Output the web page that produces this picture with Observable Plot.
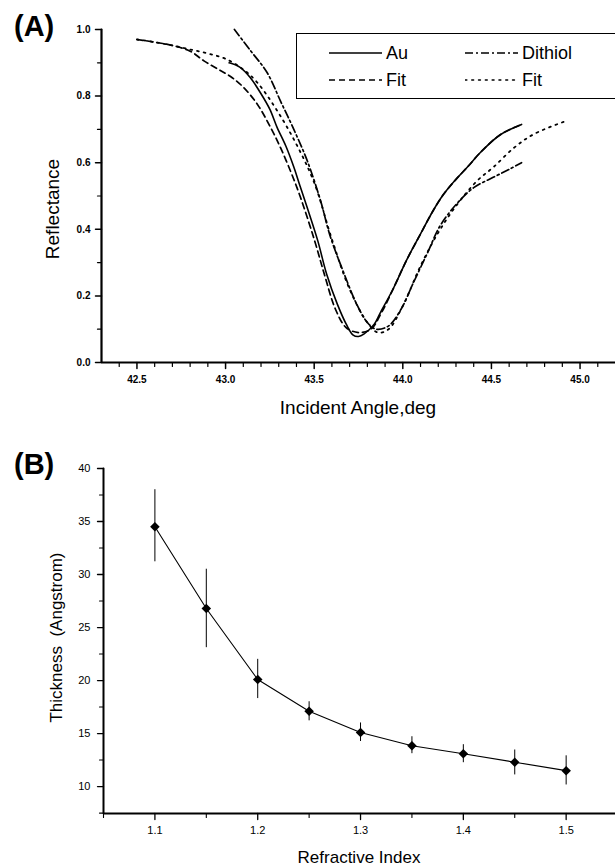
<!DOCTYPE html>
<html>
<head>
<meta charset="utf-8">
<script src="https://cdn.jsdelivr.net/npm/d3@7"></script>
<script src="https://cdn.jsdelivr.net/npm/@observablehq/plot@0.6"></script>
<style>
  body { margin: 0; background: white; color: black; }
  #wrap { position: relative; width: 615px; height: 867px; overflow: hidden; background: white; color: black; font-family: "Liberation Sans", Arial, sans-serif; }
  #a, #b { position: absolute; left: 0; }
  #a { top: 0; }
  #b { top: 420px; }
  .panel { position: absolute; font-size: 29px; line-height: 29px; font-weight: bold; white-space: nowrap; }
  .xtitle { position: absolute; width: 400px; text-align: center; white-space: nowrap; }
  #legend { position: absolute; left: 296px; top: 33px; width: 330px; height: 66px; box-sizing: border-box; border: 1.3px solid black; }
  .ltext { position: absolute; font-size: 18px; line-height: 18px; white-space: nowrap; }
  .lsample { position: absolute; width: 53px; height: 10px; }
</style>
</head>
<body>
<div id="wrap">
  <div id="a"></div>
  <div id="b"></div>
</div>
<script>
// ---------- Panel A data ----------
const auX = [43.02,43.08,43.14,43.20,43.25,43.29,43.34,43.385,43.42,43.46,43.52,43.57,43.63,43.68,43.72,43.75,43.78,43.84,43.87,43.95,44.02,44.10,44.17,44.23,44.30,44.37,44.44,44.55,44.67];
const auR = [0.90,0.887,0.855,0.807,0.76,0.707,0.65,0.587,0.53,0.466,0.366,0.266,0.176,0.116,0.082,0.078,0.085,0.116,0.146,0.226,0.306,0.386,0.455,0.505,0.55,0.59,0.632,0.684,0.715];

const fitAuX = [42.50,42.60,42.70,42.80,42.88,42.96,43.03,43.10,43.18,43.25,43.31,43.37,43.42,43.50,43.56,43.62,43.68,43.75,43.82,43.88,43.95,44.02,44.10,44.17,44.23,44.30,44.37,44.44,44.55,44.67];
const fitAuR = [0.97,0.962,0.952,0.935,0.905,0.88,0.858,0.827,0.775,0.71,0.645,0.57,0.50,0.37,0.26,0.16,0.105,0.09,0.10,0.15,0.226,0.306,0.386,0.455,0.505,0.55,0.59,0.632,0.684,0.715];

const dtX = [43.05,43.14,43.235,43.31,43.385,43.46,43.536,43.59,43.67,43.74,43.80,43.85,43.92,43.99,44.06,44.14,44.21,44.31,44.40,44.51,44.60,44.67];
const dtR = [1.0,0.937,0.87,0.785,0.70,0.607,0.486,0.38,0.265,0.175,0.12,0.10,0.11,0.16,0.24,0.33,0.41,0.48,0.525,0.556,0.58,0.60];

const fitDtX = [42.50,42.60,42.70,42.80,42.90,43.00,43.10,43.18,43.29,43.40,43.50,43.60,43.70,43.80,43.86,43.92,44.00,44.10,44.20,44.30,44.42,44.51,44.63,44.74,44.93];
const fitDtR = [0.97,0.962,0.952,0.94,0.928,0.912,0.88,0.84,0.757,0.655,0.54,0.37,0.22,0.12,0.09,0.10,0.17,0.29,0.39,0.47,0.546,0.586,0.646,0.686,0.727];

const aXDomain = [42.3, 45.2];
const aYDomain = [0, 1.0];
const aYTicks = [0, 0.2, 0.4, 0.6, 0.8, 1.0];
const aYMinor = [0.1, 0.3, 0.5, 0.7, 0.9];
const aXTicks = [42.5, 43.0, 43.5, 44.0, 44.5, 45.0];
const aXMinor = [42.4, 42.6, 42.7, 42.8, 42.9, 43.1, 43.2, 43.3, 43.4, 43.6, 43.7, 43.8, 43.9, 44.1, 44.2, 44.3, 44.4, 44.6, 44.7, 44.8, 44.9, 45.1];

const legendLabels = ["Au", "Fit", "Dithiol", "Fit"];

// ---------- Panel B data ----------
const riX = [1.10, 1.15, 1.20, 1.25, 1.30, 1.35, 1.40, 1.45, 1.50];
const thick = [34.5, 26.8, 20.1, 17.1, 15.1, 13.85, 13.1, 12.3, 11.5];
const thickLo = [31.2, 23.1, 18.3, 16.2, 14.25, 13.1, 12.25, 11.1, 10.15];
const thickHi = [38.0, 30.5, 22.0, 18.0, 16.0, 14.7, 13.95, 13.45, 12.9];

const bXDomain = [1.05, 1.548];
const bYDomain = [7.46, 40];
const bYTicks = [10, 15, 20, 25, 30, 35, 40];
const bYMinor = [7.5, 12.5, 17.5, 22.5, 27.5, 32.5, 37.5];
const bXTicks = [1.1, 1.2, 1.3, 1.4, 1.5];
const bXMinor = [1.05, 1.15, 1.25, 1.35, 1.45];

const font = "Liberation Sans, Arial, sans-serif";
const zip = (xs, ys) => xs.map((x, i) => ({x, y: ys[i]}));

// tick shape: a straight stroke of the vector's length
const tickShape = {draw(context, l) { context.moveTo(0, 0); context.lineTo(0, -l); }};

// axis lines (as an L-shaped line through the frame corners) and outward ticks (as vectors)
function frameAxes(xd, yd, yMaj, yMin, xMaj, xMin, wMaj, wMin, wAxis) {
  const corner = [{x: xd[0], y: yd[1]}, {x: xd[0], y: yd[0]}, {x: xd[1], y: yd[0]}];
  const tk = (vals, horizontal, len, w) => Plot.vector(vals, {
    x: horizontal ? (d => d) : (() => xd[0]),
    y: horizontal ? (() => yd[0]) : (d => d),
    length: len, rotate: horizontal ? 180 : -90, anchor: "start",
    shape: tickShape, stroke: "black", strokeWidth: w
  });
  return [
    tk(yMaj, false, 6, wMaj),
    tk(yMin, false, 4, wMin),
    tk(xMaj, true, 6, wMaj),
    tk(xMin, true, 4, wMin),
    Plot.line(corner, {x: "x", y: "y", stroke: "black", strokeWidth: wAxis, strokeLinejoin: "miter", curve: "linear"})
  ];
}

// ---------- Panel A ----------
const A = Plot.plot({
  width: 615, height: 420,
  marginLeft: 101, marginRight: 0, marginTop: 29, marginBottom: 58,
  x: {domain: aXDomain},
  y: {domain: aYDomain},
  style: {fontFamily: font, background: "white", color: "black", overflow: "visible"},
  marks: [
    Plot.axisY({ticks: aYTicks, tickSize: 0, tickPadding: 11, tickFormat: d3.format(".1f"), label: null, fontSize: 10, fontWeight: "bold", fill: "black"}),
    Plot.axisX({ticks: aXTicks, tickSize: 0, tickPadding: 13, tickFormat: d3.format(".1f"), label: null, fontSize: 10, fontWeight: "bold", fill: "black"}),
    ...frameAxes(aXDomain, aYDomain, aYTicks, aYMinor, aXTicks, aXMinor, 1.5, 1.2, 2.2),
    Plot.text(["Reflectance"], {frameAnchor: "left", textAnchor: "middle", lineAnchor: "middle", dx: -49, dy: 13, rotate: -90, fontSize: 19, fill: "black"}),
    Plot.line(zip(fitAuX, fitAuR), {x: "x", y: "y", stroke: "black", strokeWidth: 1.7, strokeDasharray: "6,4", curve: "catmull-rom"}),
    Plot.line(zip(fitDtX, fitDtR), {x: "x", y: "y", stroke: "black", strokeWidth: 1.8, strokeDasharray: "1.8,5", strokeLinecap: "round", curve: "catmull-rom"}),
    Plot.line(zip(dtX, dtR), {x: "x", y: "y", stroke: "black", strokeWidth: 1.7, strokeDasharray: "8,3,2,3", curve: "catmull-rom"}),
    Plot.line(zip(auX, auR), {x: "x", y: "y", stroke: "black", strokeWidth: 1.6, curve: "catmull-rom"})
  ]
});
document.getElementById("a").append(A);

// ---------- Panel B ----------
const bData = riX.map((x, i) => ({x, y: thick[i], lo: thickLo[i], hi: thickHi[i]}));
const B = Plot.plot({
  width: 615, height: 447,
  marginLeft: 103, marginRight: 0, marginTop: 48, marginBottom: 54,
  x: {domain: bXDomain},
  y: {domain: bYDomain},
  style: {fontFamily: font, background: "white", color: "black", overflow: "visible"},
  marks: [
    Plot.axisY({ticks: bYTicks, tickSize: 0, tickPadding: 13, tickFormat: d => String(d), label: null, fontSize: 11, fill: "black"}),
    Plot.axisX({ticks: bXTicks, tickSize: 0, tickPadding: 13, tickFormat: d3.format(".1f"), label: null, fontSize: 11, fill: "black"}),
    ...frameAxes(bXDomain, bYDomain, bYTicks, bYMinor, bXTicks, bXMinor, 1.3, 1.1, 2),
    Plot.text(["Thickness  (Angstrom)"], {frameAnchor: "left", textAnchor: "middle", lineAnchor: "middle", dx: -47, dy: -3.5, rotate: -90, fontSize: 17, fill: "black"}),
    Plot.ruleX(bData, {x: "x", y1: "lo", y2: "hi", stroke: "black", strokeWidth: 1}),
    Plot.line(bData, {x: "x", y: "y", stroke: "black", strokeWidth: 1.1}),
    Plot.dot(bData, {x: "x", y: "y", symbol: "diamond2", r: 4.3, fill: "black", stroke: "none"})
  ]
});
document.getElementById("b").append(B);

// ---------- Panel labels, x-axis titles and legend (HTML text) ----------
const wrap = d3.select("#wrap");
wrap.append("div").attr("class", "panel").style("left", "14px").style("top", "11.5px").text("(A)");
wrap.append("div").attr("class", "panel").style("left", "14px").style("top", "449.5px").text("(B)");
wrap.append("div").attr("class", "xtitle").style("left", "158px").style("top", "398px")
  .style("font-size", "19px").style("line-height", "19px").text("Incident Angle,deg");
wrap.append("div").attr("class", "xtitle").style("left", "159px").style("top", "849px")
  .style("font-size", "17px").style("line-height", "17px").text("Refractive Index");
wrap.append("div").attr("id", "legend");
const legendItems = [
  {x: 329, y: 53, dash: null, label: legendLabels[0]},
  {x: 329, y: 80, dash: "6,4", label: legendLabels[1]},
  {x: 465, y: 53, dash: "8,3,2,3", label: legendLabels[2]},
  {x: 465, y: 80, dash: "1.8,5", label: legendLabels[3]}
];
legendItems.forEach(d => {
  const s = wrap.append("svg").attr("class", "lsample").attr("width", 53).attr("height", 10)
    .style("left", d.x + "px").style("top", (d.y - 5) + "px");
  const l = s.append("line").attr("x1", 0).attr("x2", 53).attr("y1", 5).attr("y2", 5)
    .attr("stroke", "black").attr("stroke-width", 1.6);
  if (d.dash) l.attr("stroke-dasharray", d.dash).attr("stroke-linecap", d.dash === "1.8,5" ? "round" : "butt");
  wrap.append("div").attr("class", "ltext").style("left", (d.x + 57) + "px").style("top", (d.y + 6.5 - 15.25) + "px").text(d.label);
});
</script>
</body>
</html>
